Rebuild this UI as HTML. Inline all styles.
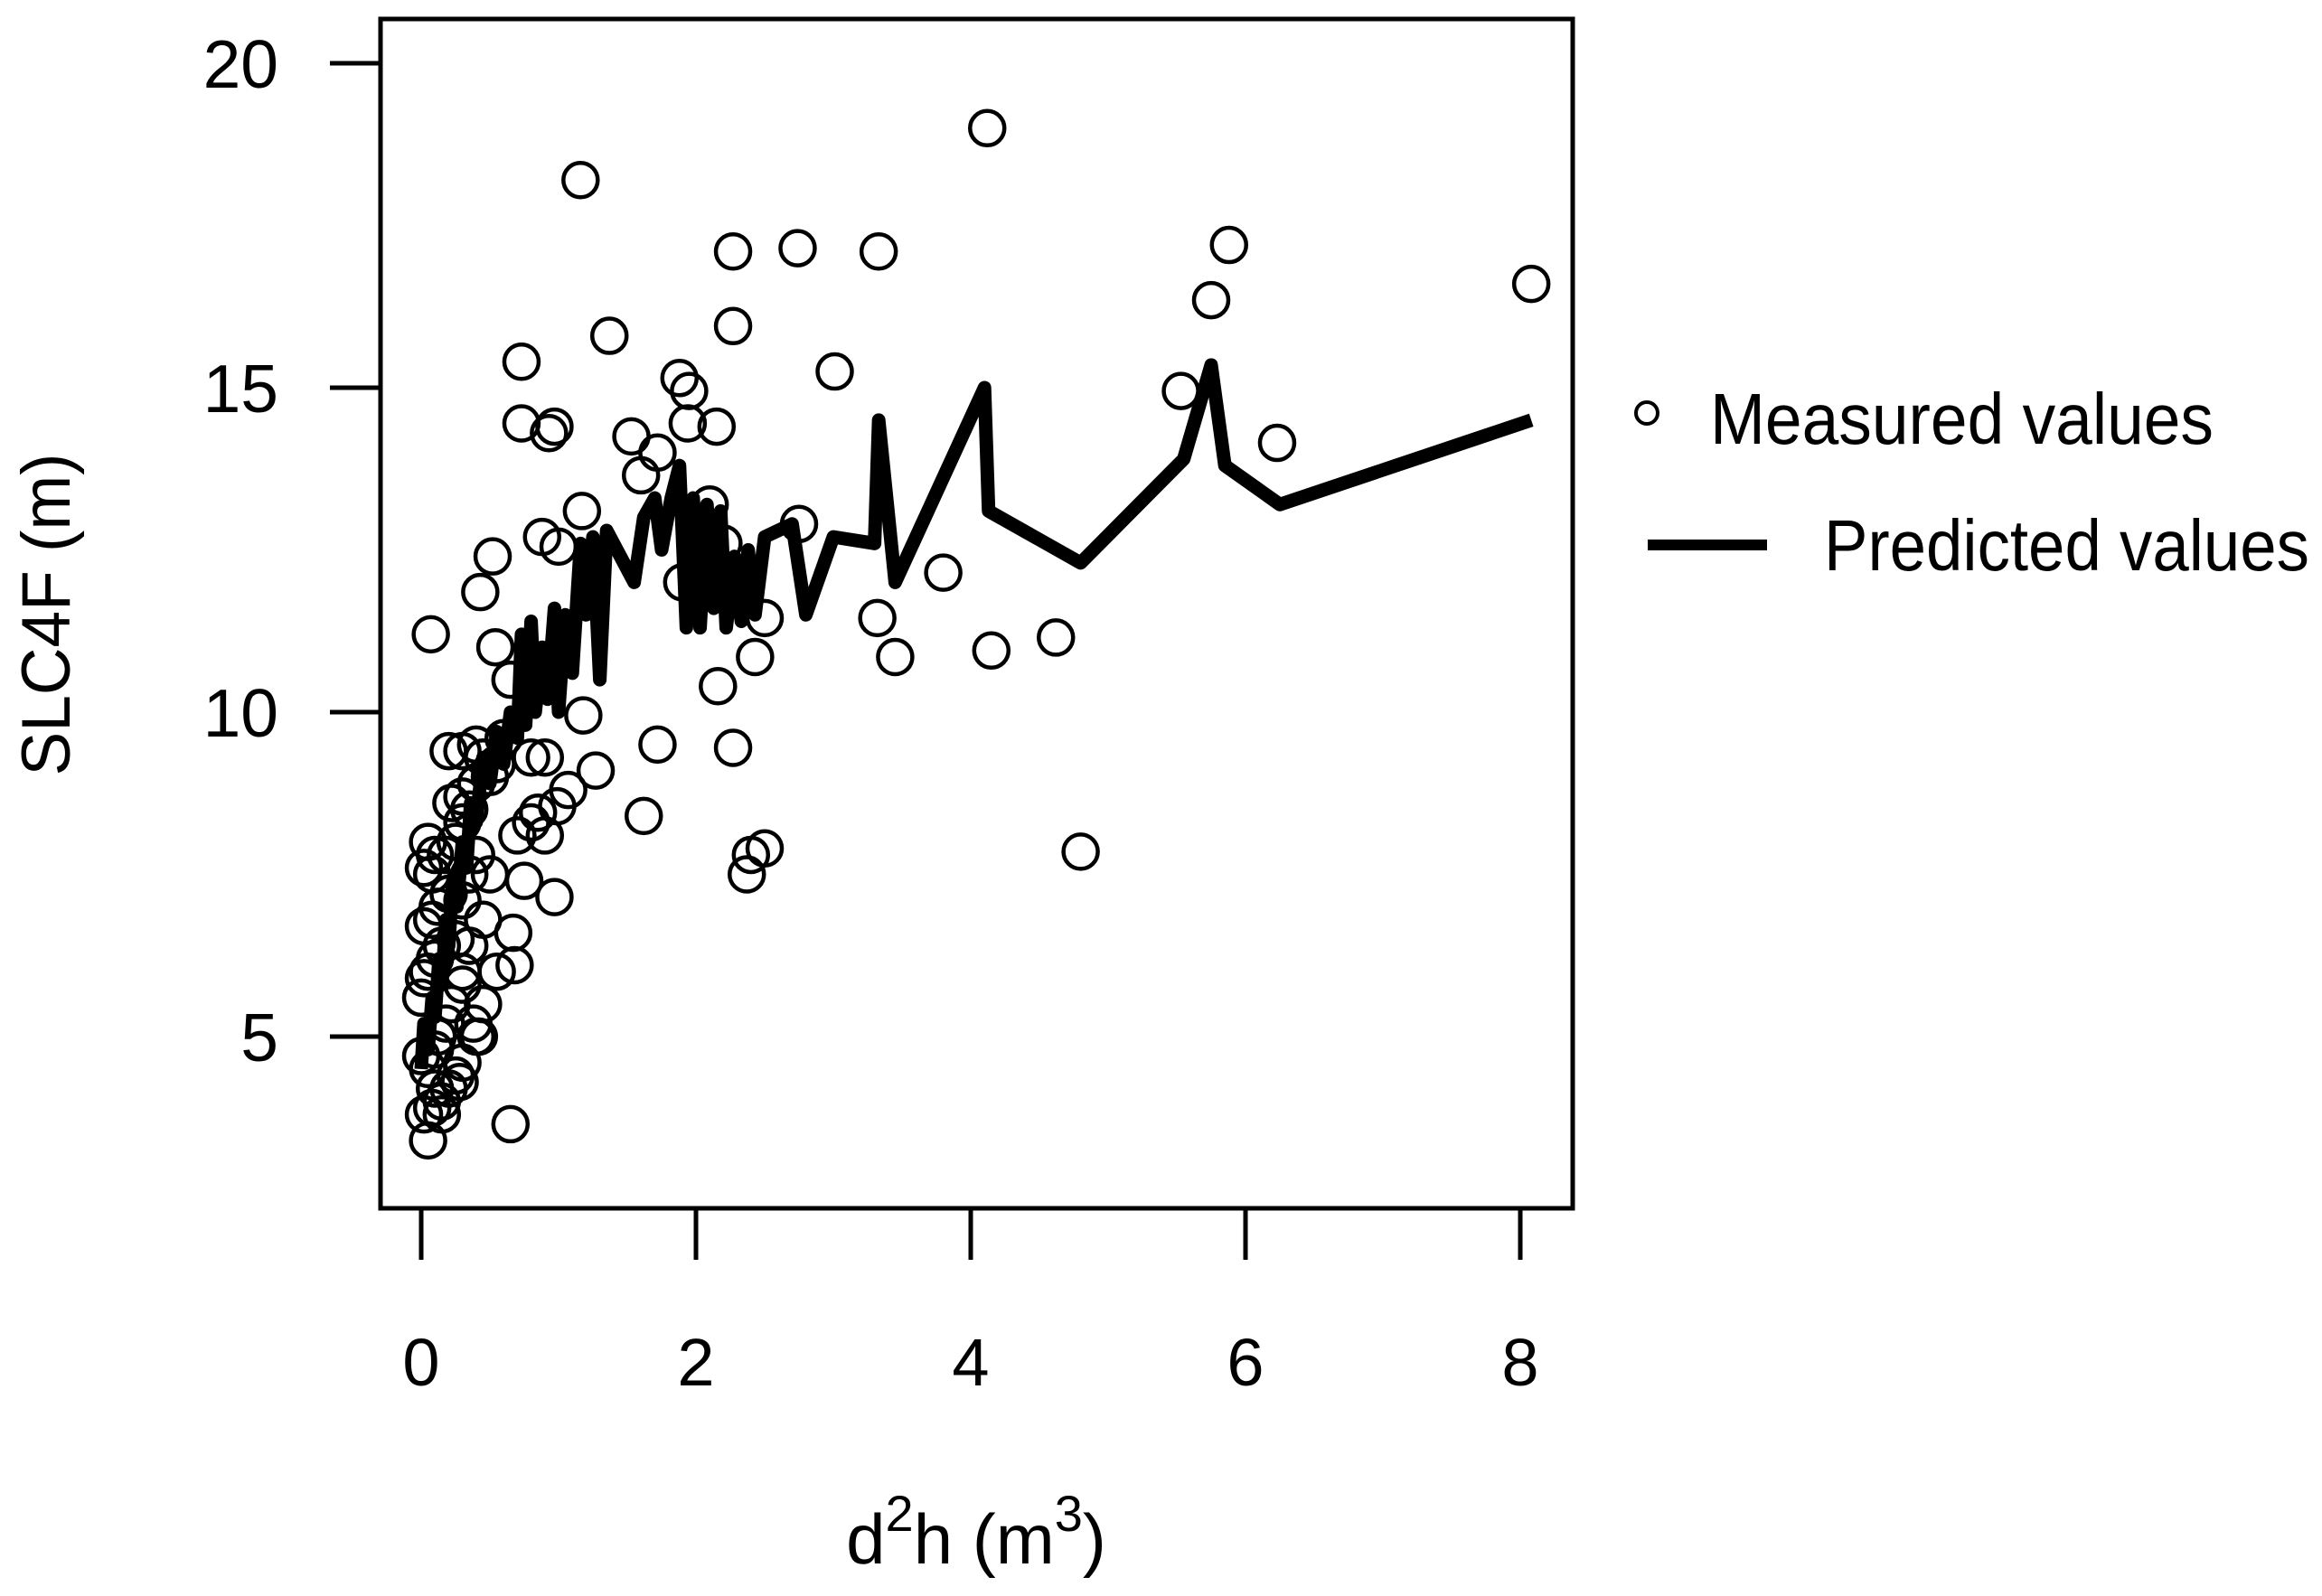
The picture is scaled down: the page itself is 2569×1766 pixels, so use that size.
<!DOCTYPE html>
<html><head><meta charset="utf-8"><style>
html,body{margin:0;padding:0;background:#fff;}
svg{display:block;font-family:"Liberation Sans",Arial,sans-serif;}
</style></head><body>
<svg id="chart" width="2569" height="1766" viewBox="0 0 2569 1766" xmlns="http://www.w3.org/2000/svg">
<rect x="0" y="0" width="2569" height="1766" fill="#fff"/>
<g id="marks"></g>
<rect x="421" y="21" width="1319" height="1316" fill="none" stroke="#000" stroke-width="5"/>
<g id="axes"></g>
<text x="1080" y="1730" font-size="78" text-anchor="middle">d<tspan font-size="56" dy="-36">2</tspan><tspan dy="36">h (m</tspan><tspan font-size="56" dy="-36">3</tspan><tspan dy="36">)</tspan></text>
<text transform="translate(77,680) rotate(-90)" font-size="76" text-anchor="middle" textLength="357" lengthAdjust="spacingAndGlyphs">SLC4F (m)</text>
<g>
<circle cx="1822" cy="457" r="12" fill="none" stroke="#000" stroke-width="4"/>
<text x="1892" y="491" font-size="80" textLength="557" lengthAdjust="spacingAndGlyphs">Measured values</text>
<line x1="1823" y1="603" x2="1955" y2="603" stroke="#000" stroke-width="12"/>
<text x="2018" y="631" font-size="80" textLength="537" lengthAdjust="spacingAndGlyphs">Predicted values</text>
</g>
</svg>
<script>
const measuredX = [1.16,4.12,2.27,2.74,3.33,5.88,5.75,8.08,2.27,1.37,3.01,0.73,5.53,1.88,1.95,0.73,0.93,0.97,1.94,2.15,1.53,1.72,1.6,6.23,1.17,0.88,0.52,0.43,0.07,0.54,0.65,1.0,1.9,2.75,2.1,2.2,2.5,3.32,3.8,3.45,4.15,4.62,2.16,2.43,1.18,1.72,2.27,1.27,0.99,1.07,1.62,0.8,0.85,0.9,0.7,0.75,0.97,2.37,2.4,2.5,4.8,0.67,0.68,0.55,0.45,0.4,0.65,
0.05,0.02,0.08,0.15,0.2,0.25,0.28,0.0,0.05,0.1,0.12,0.18,0.22,0.3,0.02,0.0,0.05,0.1,0.15,0.25,0.35,0.02,0.08,0.12,0.2,0.3,0.02,0.08,0.1,0.05,0.18,0.25,0.3,0.22,0.3,0.35,0.2,0.3,0.4,0.45,0.5,0.4,0.55,0.6,0.35,0.4,0.5,0.45,0.3,0.38,0.42,0.15,0.1,0.3,0.8,0.9];
const measuredY = [18.2,19.0,17.1,17.15,17.1,17.2,16.35,16.6,15.95,15.8,15.25,15.4,14.95,15.15,14.95,14.45,14.3,14.4,14.45,14.4,14.25,14.0,13.65,14.15,13.1,12.7,12.4,11.85,11.2,11.0,10.5,12.55,12.0,12.9,13.2,12.6,11.45,11.45,12.15,10.85,10.95,11.15,10.4,10.85,9.95,9.5,9.45,9.1,8.55,8.8,8.4,8.3,8.45,8.1,8.1,7.4,7.15,7.5,7.8,7.9,7.85,6.6,6.1,6.0,5.5,5.0,3.65,
3.4,3.8,3.9,4.0,4.2,4.4,4.3,4.7,4.5,4.8,5.0,5.2,5.5,5.8,5.9,5.6,6.0,6.2,6.4,6.5,6.4,6.7,6.8,7.0,7.2,7.1,7.6,7.5,7.8,8.0,7.8,8.0,8.3,8.6,8.7,8.5,9.4,9.4,9.5,9.3,9.0,8.9,9.2,9.6,7.5,7.8,7.5,6.8,6.0,5.2,5.0,3.8,4.2,4.6,9.3,9.3];
const predX = [0,0.02,0.05,0.08,0.1,0.13,0.15,0.18,0.2,0.23,0.26,0.3,0.33,0.36,0.4,0.45,0.5,0.55,0.6,0.65,0.7,0.73,0.76,0.8,0.83,0.88,0.92,0.97,1.0,1.05,1.1,1.16,1.2,1.25,1.3,1.35,1.45,1.55,1.62,1.7,1.75,1.82,1.88,1.93,1.98,2.03,2.08,2.13,2.18,2.22,2.28,2.33,2.38,2.43,2.5,2.6,2.7,2.8,3.0,3.3,3.33,3.45,4.1,4.13,4.8,5.55,5.75,5.85,6.25,8.08];
const predY = [4.5,5.2,4.8,5.6,5.3,6.2,5.8,6.8,6.4,7.4,7.0,8.0,7.6,8.6,8.3,9.3,8.9,9.7,9.2,10.0,9.6,11.2,9.8,11.4,10.0,11.0,10.2,11.6,10.0,11.5,10.6,12.6,11.5,12.7,10.5,12.8,12.4,12.0,13.0,13.3,12.5,13.3,13.8,11.3,13.3,11.3,13.2,11.6,13.1,11.3,12.4,11.4,12.5,11.5,12.7,12.8,12.9,11.5,12.7,12.6,14.5,12.0,15.0,13.1,12.3,13.9,15.35,13.8,13.2,14.5];
const xTicks = [0,2,4,6,8];
const yTicks = [5,10,15,20];

const NS = "http://www.w3.org/2000/svg";
function sx(v){ return 466 + 152 * v; }
function sy(v){ return 1147 - 71.8 * (v - 5); }
const marks = document.getElementById('marks');
const axes = document.getElementById('axes');

for (let i = 0; i < measuredX.length; i++) {
  const c = document.createElementNS(NS, 'circle');
  c.setAttribute('cx', sx(measuredX[i]));
  c.setAttribute('cy', sy(measuredY[i]));
  c.setAttribute('r', 19);
  c.setAttribute('fill', 'none');
  c.setAttribute('stroke', '#000');
  c.setAttribute('stroke-width', 4.5);
  
  
  marks.appendChild(c);
}
const pts = predX.map((x, i) => sx(x) + ',' + sy(predY[i])).join(' ');
const pl = document.createElementNS(NS, 'polyline');
pl.setAttribute('points', pts);
pl.setAttribute('fill', 'none');
pl.setAttribute('stroke', '#000');
pl.setAttribute('stroke-width', 15);
pl.setAttribute('stroke-linejoin', 'round');


marks.appendChild(pl);

xTicks.forEach(t => {
  const l = document.createElementNS(NS, 'line');
  l.setAttribute('x1', sx(t)); l.setAttribute('x2', sx(t));
  l.setAttribute('y1', 1337); l.setAttribute('y2', 1394);
  l.setAttribute('stroke', '#000'); l.setAttribute('stroke-width', 5);
  
  
  axes.appendChild(l);
  const tx = document.createElementNS(NS, 'text');
  tx.setAttribute('x', sx(t)); tx.setAttribute('y', 1533);
  tx.setAttribute('font-size', 74); tx.setAttribute('text-anchor', 'middle');
  tx.textContent = t;
  
  
  axes.appendChild(tx);
});
yTicks.forEach(t => {
  const l = document.createElementNS(NS, 'line');
  l.setAttribute('x1', 365); l.setAttribute('x2', 421);
  l.setAttribute('y1', sy(t)); l.setAttribute('y2', sy(t));
  l.setAttribute('stroke', '#000'); l.setAttribute('stroke-width', 5);
  
  
  axes.appendChild(l);
  const tx = document.createElementNS(NS, 'text');
  tx.setAttribute('x', 308); tx.setAttribute('y', sy(t) + 27);
  tx.setAttribute('font-size', 75); tx.setAttribute('text-anchor', 'end');
  tx.textContent = t;
  
  
  axes.appendChild(tx);
});
</script>
</body></html>
